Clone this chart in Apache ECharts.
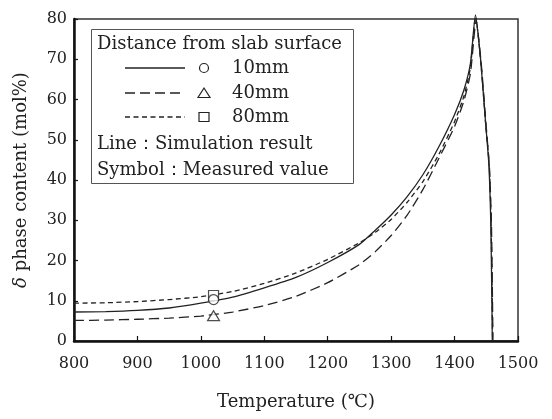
<!DOCTYPE html>
<html>
<head>
<meta charset="utf-8">
<script src="https://cdn.jsdelivr.net/npm/echarts@6/dist/echarts.min.js"></script>
<style>
	html, body { margin: 0; padding: 0; background: #fff; }
	#chart { width: 552px; height: 419px; }
</style>
</head>
<body>
<div id="chart"></div>
<script>
// simulation curves (temperature in C, delta phase in mol%)
const temps10 = [800, 850, 900, 950, 1000, 1050, 1100, 1150, 1200, 1250, 1275, 1300, 1325, 1350, 1375, 1400, 1415, 1425, 1433, 1441, 1449, 1454, 1457, 1458.5, 1459.5];
const delta10 = [7.2, 7.3, 7.6, 8.2, 9.4, 10.9, 13.2, 15.8, 19.5, 24.0, 27.5, 31.3, 35.8, 41.3, 48.2, 56.3, 62.5, 69.0, 81.0, 70.0, 54.0, 44.0, 30.0, 14.0, 0];

const temps40 = [800, 850, 900, 950, 1000, 1050, 1100, 1150, 1200, 1250, 1275, 1300, 1325, 1350, 1375, 1400, 1415, 1425, 1434, 1442, 1449.5, 1455, 1458, 1459.5, 1460.5];
const delta40 = [5.1, 5.2, 5.4, 5.7, 6.2, 7.2, 8.8, 11.1, 14.5, 19.0, 22.2, 26.2, 31.2, 37.6, 45.3, 53.3, 59.8, 66.5, 79.5, 69.0, 54.0, 43.0, 30.0, 14.0, 0];

const temps80 = [800, 850, 900, 950, 1000, 1050, 1100, 1150, 1200, 1250, 1275, 1300, 1325, 1350, 1375, 1400, 1415, 1425, 1433, 1441, 1449, 1454.5, 1457.5, 1459, 1460];
const delta80 = [9.4, 9.5, 9.8, 10.3, 11.0, 12.3, 14.3, 16.9, 20.3, 24.4, 27.0, 30.2, 34.4, 39.6, 46.3, 54.5, 61.0, 68.0, 80.5, 70.0, 54.0, 44.0, 30.0, 14.0, 0];

// measured values
const measTemp = [1020, 1020, 1020];
const measVal = [10.3, 6.3, 11.3];   // 10mm, 40mm, 80mm

const legendRows = ['10mm', '40mm', '80mm'];
const legendTitle = 'Distance from slab surface';
const legendNotes = ['Line\uFF1ASimulation result', 'Symbol\uFF1AMeasured value'];

const FONT = '"DejaVu Serif", "Liberation Serif", serif';
const INK = '#222';

function pairs(xs, ys) {
	return xs.map((x, i) => [x, ys[i]]);
}

let myChart = echarts.init(document.getElementById('chart'), null, { renderer: 'canvas' });

let lineBase = {
	type: 'line',
	showSymbol: false,
	smooth: 0.2,
	clip: false,
	silent: true,
	z: 3
};

let rowY = [68, 93, 117];
let dashes = ['solid', [10, 5], [5, 3.5]];

let graphics = [
	{
		type: 'rect',
		shape: { x: 91.5, y: 29.5, width: 262, height: 154 },
		style: { fill: '#fff', stroke: '#555', lineWidth: 1 },
		z: 10
	},
	{
		type: 'text', x: 97, y: 44, z: 11,
		style: { text: legendTitle, font: '18px ' + FONT, fill: INK, verticalAlign: 'middle' }
	},
	{
		type: 'text', x: 97, y: 144, z: 11,
		style: { text: legendNotes[0], font: '18px ' + FONT, fill: INK, verticalAlign: 'middle' }
	},
	{
		type: 'text', x: 97, y: 170, z: 11,
		style: { text: legendNotes[1], font: '18px ' + FONT, fill: INK, verticalAlign: 'middle' }
	}
];
legendRows.forEach((label, i) => {
	graphics.push({
		type: 'line', z: 11,
		shape: { x1: 125, y1: rowY[i], x2: 185, y2: rowY[i] },
		style: { stroke: INK, lineWidth: 1.3, lineDash: dashes[i] === 'solid' ? null : dashes[i] }
	});
	graphics.push({
		type: 'text', x: 232, y: rowY[i], z: 11,
		style: { text: label, font: '18px ' + FONT, fill: INK, verticalAlign: 'middle' }
	});
});
graphics.push({
	type: 'circle', z: 11,
	shape: { cx: 204, cy: rowY[0], r: 4.5 },
	style: { fill: '#fff', stroke: INK, lineWidth: 1.2 }
});
graphics.push({
	type: 'polygon', z: 11,
	shape: { points: [[204, rowY[1] - 5], [210, rowY[1] + 4.5], [198, rowY[1] + 4.5]] },
	style: { fill: '#fff', stroke: INK, lineWidth: 1.2 }
});
graphics.push({
	type: 'rect', z: 11,
	shape: { x: 199, y: rowY[2] - 4.5, width: 10, height: 9 },
	style: { fill: '#fff', stroke: INK, lineWidth: 1.2 }
});

let option = {
	animation: false,
	backgroundColor: '#fff',
	grid: {
		left: 74,
		right: 34,
		top: 19,
		bottom: 78,
		show: true,
		borderColor: '#333',
		borderWidth: 1.5
	},
	xAxis: {
		type: 'value',
		min: 800,
		max: 1500,
		interval: 100,
		name: 'Temperature (\u2103)',
		nameLocation: 'middle',
		nameGap: 52,
		nameTextStyle: { fontFamily: FONT, fontSize: 18, color: INK },
		axisLine: { show: true, onZero: false, lineStyle: { color: '#111', width: 2.5 } },
		axisTick: { show: true, inside: true, length: 5, lineStyle: { color: '#111', width: 1.2 } },
		axisLabel: {
			fontFamily: FONT, fontSize: 16, color: INK, margin: 15,
			formatter: function(v) { return String(v); }
		},
		splitLine: { show: false }
	},
	yAxis: {
		type: 'value',
		min: 0,
		max: 80,
		interval: 10,
		name: '{i|\u03B4} phase content (mol%)',
		nameLocation: 'middle',
		nameGap: 44,
		nameTextStyle: {
			fontFamily: FONT, fontSize: 18, color: INK,
			rich: { i: { fontFamily: FONT, fontSize: 18, fontStyle: 'italic', color: INK } }
		},
		axisLine: { show: true, onZero: false, lineStyle: { color: '#111', width: 2.5 } },
		axisTick: { show: true, inside: true, length: 4, lineStyle: { color: '#111', width: 1.2 } },
		axisLabel: { fontFamily: FONT, fontSize: 16, color: INK, margin: 7 },
		splitLine: { show: false }
	},
	graphic: graphics,
	series: [
		Object.assign({}, lineBase, {
			name: '10mm',
			data: pairs(temps10, delta10),
			lineStyle: { color: INK, width: 1.3, type: 'solid' }
		}),
		Object.assign({}, lineBase, {
			name: '40mm',
			data: pairs(temps40, delta40),
			lineStyle: { color: INK, width: 1.3, type: [10, 5] }
		}),
		Object.assign({}, lineBase, {
			name: '80mm',
			data: pairs(temps80, delta80),
			lineStyle: { color: INK, width: 1.3, type: [5, 3.5] }
		}),
		{
			type: 'scatter',
			silent: true,
			z: 5,
			data: [
				{ value: [measTemp[2], measVal[2]], symbol: 'rect', symbolSize: 10 },
				{ value: [measTemp[0], measVal[0]], symbol: 'circle', symbolSize: 10 },
				{ value: [measTemp[1], measVal[1]], symbol: 'triangle', symbolSize: [12, 10] }
			],
			itemStyle: { color: '#fff', borderColor: INK, borderWidth: 1.2 }
		}
	]
};
option && myChart.setOption(option);
</script>
</body>
</html>
